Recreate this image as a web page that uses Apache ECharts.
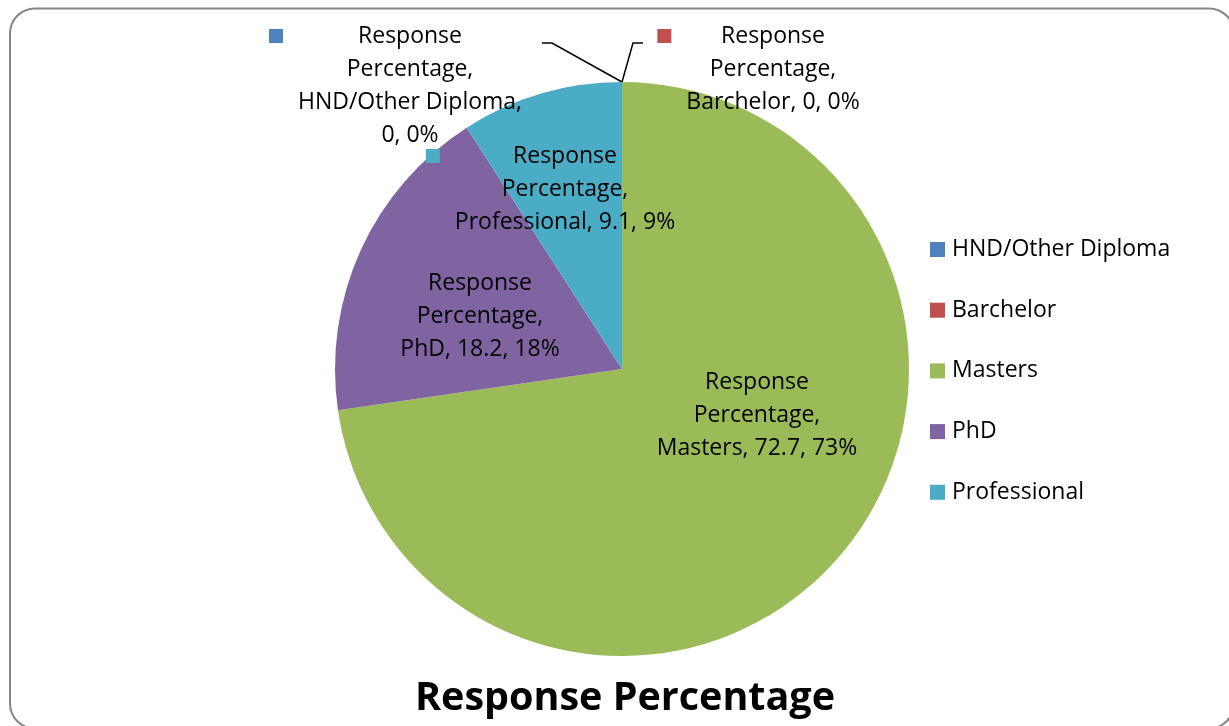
<!DOCTYPE html>
<html>
<head>
<meta charset="utf-8">
<title>Response Percentage</title>
<script src="https://cdn.jsdelivr.net/npm/echarts@6/dist/echarts.min.js"></script>
<style>
  html, body { margin: 0; padding: 0; background: #ffffff; }
  #chart { width: 1229px; height: 726px; }
</style>
</head>
<body>
<div id="chart"></div>
<script>
// Data
const seriesName = 'Response Percentage';
const categories = ['HND/Other Diploma', 'Barchelor', 'Masters', 'PhD', 'Professional'];
const values = [0, 0, 72.7, 18.2, 9.1];
const colors = ['#4F81BD', '#C0504D', '#9BBB59', '#8064A2', '#4BACC6'];

// Layout / style settings
const FONT = '"Open Sans", "Noto Sans", sans-serif';
const LABEL_SIZE = 23;
const LINE_H = 33;
const CX = 622, CY = 369, R = 287;
// which labels carry a legend key square
const labelKey = { 'HND/Other Diploma': true, 'Barchelor': true, 'Professional': true };
// label block top-centre, relative to the pie centre
const labelPos = {
  'HND/Other Diploma': [-226.5, -349.5],
  'Barchelor': [136.5, -349.5],
  'Professional': [-71.5, -229.5],
  'PhD': [-142, -102.5],
  'Masters': [135, -3.5]
};
// elbow of the leader lines for labels placed outside the pie
const leaderPts = {
  'HND/Other Diploma': [[-70, -326], [-80, -326]],
  'Barchelor': [[11, -326], [21, -326]]
};

const total = values.reduce((a, b) => a + b, 0);

const rich = {
  t: { fontFamily: FONT, fontSize: LABEL_SIZE, color: '#000', lineHeight: LINE_H },
  sp: { width: 29, height: 14, lineHeight: LINE_H, align: 'left' },
  gap: { width: 15, height: 14, lineHeight: LINE_H, align: 'left' }
};
colors.forEach((c, i) => {
  rich['sq' + i] = { width: 14, height: 14, backgroundColor: c, lineHeight: LINE_H, align: 'left' };
});

function labelText(p) {
  const pct = Math.round(p.value / total * 100);
  const keyed = !!labelKey[p.name];
  const lines = ['Response', 'Percentage,'];
  if (p.name.length > 12) {
    lines.push(p.name + ',');
    lines.push(p.value + ', ' + pct + '%');
  } else {
    lines.push(p.name + ', ' + p.value + ', ' + pct + '%');
  }
  return lines.map((ln, k) => {
    let pre = '';
    if (keyed) pre = k === 0 ? '{sq' + p.dataIndex + '|}{gap|}' : '{sp|}';
    return pre + '{t|' + ln + '}';
  }).join('\n');
}

const pieData = categories.map((name, i) => {
  const item = { name: name, value: values[i], itemStyle: { color: colors[i] } };
  if (leaderPts[name]) {
    item.label = { position: 'outside' };
    item.labelLine = { show: true, length: 10, length2: 10, lineStyle: { color: '#000', width: 1.5 } };
  }
  return item;
});

const chart = echarts.init(document.getElementById('chart'), null, { renderer: 'canvas' });

chart.setOption({
  backgroundColor: '#ffffff',
  animation: false,
  color: colors,
  title: {
    text: seriesName,
    left: 620,
    textAlign: 'center',
    top: 674,
    textStyle: { fontFamily: FONT, fontSize: 39.5, fontWeight: 'bold', color: '#000' }
  },
  legend: {
    orient: 'vertical',
    left: 930,
    top: 238,
    padding: 0,
    itemWidth: 15,
    itemHeight: 15,
    itemGap: 37.7,
    icon: 'rect',
    selectedMode: false,
    textStyle: { fontFamily: FONT, fontSize: 23, color: '#000', lineHeight: 20, padding: [0, 0, 0, 2] },
    data: categories
  },
  graphic: [{
    type: 'rect',
    shape: { x: 10, y: 8.5, width: 1224, height: 720, r: 25 },
    style: { fill: 'none', stroke: '#868686', lineWidth: 2 },
    silent: true,
    z: 10
  }],
  series: [{
    name: seriesName,
    type: 'pie',
    center: [CX, CY],
    radius: [0, R],
    startAngle: 90,
    clockwise: true,
    avoidLabelOverlap: false,
    minShowLabelAngle: 0,
    itemStyle: { borderWidth: 0 },
    emphasis: { disabled: true },
    label: {
      show: true,
      position: 'inside',
      formatter: labelText,
      rich: rich,
      fontFamily: FONT,
      fontSize: LABEL_SIZE,
      color: '#000',
      align: 'center'
    },
    labelLine: { show: false },
    labelLayout: function (params) {
      const name = categories[params.dataIndex];
      const pos = labelPos[name];
      const out = {
        x: CX + pos[0],
        y: CY + pos[1],
        align: 'center',
        verticalAlign: 'top'
      };
      const lp = leaderPts[name];
      if (lp && params.labelLinePoints) {
        const a = params.labelLinePoints[0];
        out.labelLinePoints = [[a[0], a[1]]].concat(lp.map(q => [CX + q[0], CY + q[1]]));
      }
      return out;
    },
    data: pieData
  }]
});
</script>
</body>
</html>
